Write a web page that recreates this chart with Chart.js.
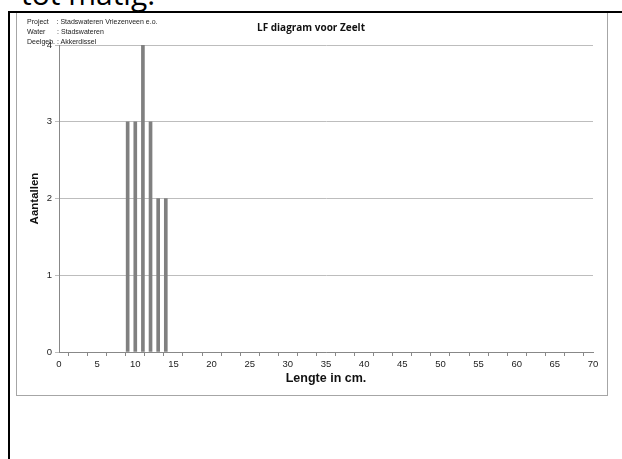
<!DOCTYPE html>
<html>
<head>
<meta charset="utf-8">
<script src="https://cdn.jsdelivr.net/npm/chart.js@4"></script>
<style>
  body { margin: 0; background: #fff; width: 622px; height: 459px; overflow: hidden; position: relative; font-family: "Liberation Sans", Arial, sans-serif; }
  .doc-text { position: absolute; left: 21px; top: -27px; font-family: "Open Sans", "Noto Sans", sans-serif; font-size: 30px; color: #000; white-space: nowrap; }
  .line-top { position: absolute; left: 8px; top: 11px; width: 614px; height: 2px; background: #000; }
  .line-left { position: absolute; left: 8px; top: 11px; width: 2px; height: 448px; background: #000; }
  .box { position: absolute; left: 16px; top: 13px; width: 590px; height: 382px; border: 1px solid #a6a6a6; border-top: none; }
  .meta { position: absolute; left: 27px; top: 17px; font-size: 7px; line-height: 10px; color: #222; white-space: pre; }
  .title { position: absolute; left: 0; width: 622px; top: 20px; text-align: center; font-family: "Open Sans", "Noto Sans", sans-serif; font-weight: bold; font-size: 10px; color: #111; }
  #wrap { position: absolute; left: 17px; top: 14px; width: 590px; height: 381px; }
</style>
</head>
<body>
<div class="doc-text">tot matig.</div>
<div class="line-top"></div>
<div class="line-left"></div>
<div class="box"></div>
<div id="wrap"><canvas id="lfChart"></canvas></div>
<div class="meta">Project    : Stadswateren Vriezenveen e.o.
Water      : Stadswateren
Deelgeb. : Akkerdissel</div>
<div class="title">LF diagram voor Zeelt</div>
<script>
// lengteklassen (cm) en aantallen
const lengtes = [9, 10, 11, 12, 13, 14];
const aantallen = [3, 3, 4, 3, 2, 2];
const xMin = 0, xMax = 70, xStap = 2.5;
const yMin = 0, yMax = 4, yStap = 1;

const punten = lengtes.map((l, i) => ({ x: l, y: aantallen[i] }));

new Chart(document.getElementById('lfChart'), {
    type: 'bar',
    data: {
        datasets: [{
            label: 'Zeelt',
            data: punten,
            backgroundColor: '#808080',
            borderWidth: 0,
            barThickness: 3
        }]
    },
    options: {
        responsive: true,
        maintainAspectRatio: false,
        animation: false,
        layout: { padding: { left: 0, top: 31, right: 14, bottom: 0 } },
        plugins: {
            legend: { display: false },
            tooltip: { enabled: false }
        },
        scales: {
            x: {
                type: 'linear',
                min: xMin,
                max: xMax,
                offset: false,
                afterFit: function(axis) { axis.height = 43; },
                ticks: {
                    stepSize: xStap,
                    autoSkip: false,
                    maxRotation: 0,
                    padding: 3,
                    color: '#222',
                    font: { family: 'Liberation Sans', size: 9.5 },
                    callback: function(v) { return v % 5 === 0 ? v : ''; }
                },
                grid: { drawOnChartArea: false, drawTicks: true, tickLength: 4, color: '#888' },
                border: { color: '#888', width: 1 },
                title: {
                    display: true,
                    text: 'Lengte in cm.',
                    color: '#111',
                    font: { family: 'Liberation Sans', size: 12.5, weight: 'bold' },
                    padding: { top: 0, bottom: 9 }
                }
            },
            y: {
                min: yMin,
                max: yMax,
                afterFit: function(axis) { axis.width = 42; },
                ticks: {
                    stepSize: yStap,
                    padding: 3,
                    color: '#222',
                    font: { family: 'Liberation Sans', size: 9.5 }
                },
                grid: { color: '#bdbdbd', tickLength: 4, lineWidth: 1 },
                border: { color: '#888', width: 1 },
                title: {
                    display: true,
                    text: 'Aantallen',
                    color: '#111',
                    font: { family: 'Liberation Sans', size: 11.5, weight: 'bold' },
                    padding: { top: 11, bottom: 0 }
                }
            }
        }
    }
});
</script>
</body>
</html>
